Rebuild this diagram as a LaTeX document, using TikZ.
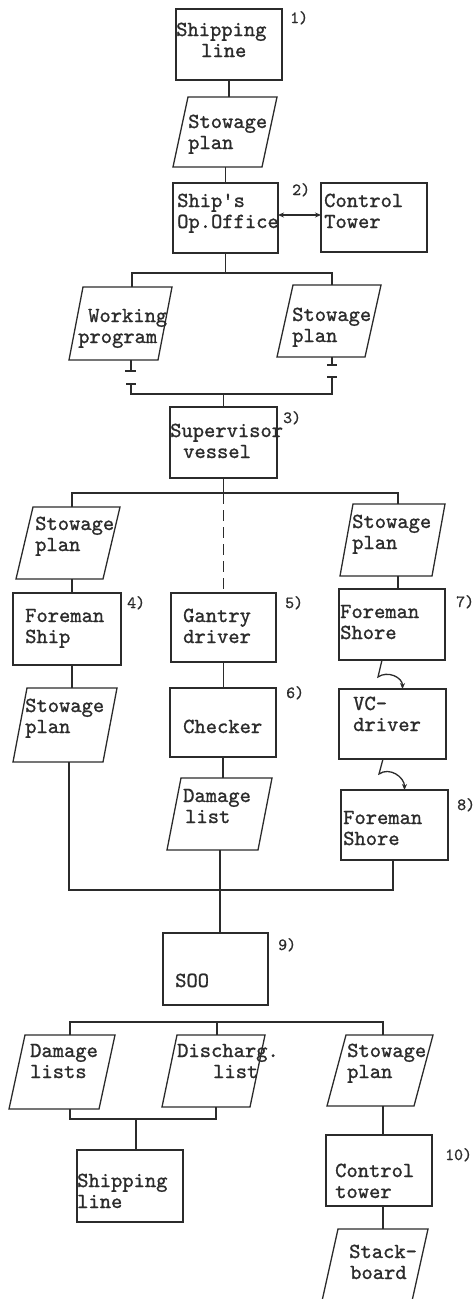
\documentclass[tikz,border=0pt]{standalone}
\usepackage{fontspec}
\newfontfamily\tw{lmmono10-regular.otf}[FakeBold=1.1]
\usetikzlibrary{arrows.meta,calc}
\definecolor{ink}{HTML}{2B2B2B}
\tikzset{
  ln/.style={draw=ink,line width=1.3pt},
  box/.style={ln,rectangle,inner sep=0pt,outer sep=0pt},
  inv/.style={rectangle,inner sep=0pt,outer sep=0pt},
  txt/.style={font=\tw\fontsize{21.5}{21}\selectfont,text=ink,inner sep=0pt,anchor=base west,align=left},
  num/.style={font=\tw\fontsize{17}{18}\selectfont,text=ink,inner sep=0pt,anchor=base west},
  tip/.style={-{Stealth[length=6pt,width=5pt]}},
  dtip/.style={{Stealth[length=6pt,width=5pt]}-{Stealth[length=6pt,width=5pt]}},
}
\newcommand\Para[6]{%
  \node[inv,minimum width=#4,minimum height=#5] (#1) at (#2,#3) {};
  \draw[ln] ([xshift=#6]#1.north west) -- (#1.north east) -- ([xshift=-#6]#1.south east) -- (#1.south west) -- cycle;}
\begin{document}
\begin{tikzpicture}[x=1pt,y=-1pt]
\useasboundingbox (0,0) rectangle (475,1299);
% boxes
\node[box,minimum width=106,minimum height=71] (sl1) at (229,44.5) {};
\node[box,minimum width=105,minimum height=70] (ops) at (225.5,218) {};
\node[box,minimum width=106,minimum height=69] (ct1) at (374,217.5) {};
\node[box,minimum width=107,minimum height=71] (sup) at (223.5,442.5) {};
\node[box,minimum width=108,minimum height=72] (fsh) at (67,629) {};
\node[box,minimum width=105,minimum height=69] (gan) at (223.5,627.5) {};
\node[box,minimum width=106,minimum height=71] (fs1) at (392,624.5) {};
\node[box,minimum width=106,minimum height=69] (chk) at (223,722.5) {};
\node[box,minimum width=107,minimum height=70] (vc) at (392.5,724) {};
\node[box,minimum width=107,minimum height=70] (fs2) at (394.5,825) {};
\node[box,minimum width=105,minimum height=72] (soo) at (215.5,969) {};
\node[box,minimum width=106,minimum height=72] (sl2) at (130,1186) {};
\node[box,minimum width=106,minimum height=71] (ct2) at (379,1170.5) {};
% parallelograms
\Para{sp1}{225}{132}{104}{70}{15}
\Para{wp}{120.5}{323.5}{103}{73}{14}
\Para{sp2}{329}{321}{104}{72}{16}
\Para{sp3}{68}{543}{104}{72}{17}
\Para{sp4}{392.5}{540}{105}{72}{13}
\Para{sp5}{65}{725}{104}{74}{14}
\Para{dl}{219.5}{814}{105}{72}{14}
\Para{dls}{62}{1072}{106}{74}{16}
\Para{dis}{213.5}{1071}{103}{72}{15}
\Para{sp6}{380}{1070.5}{106}{71}{19}
\Para{sb}{375}{1265}{106}{72}{16}
% junction coordinates
\coordinate (b1) at (132,273);
\coordinate (b2) at (332,273);
\coordinate (k1) at (131,371);
\coordinate (k2) at (131,384);
\coordinate (k3) at (131,394);
\coordinate (k4) at (332,365);
\coordinate (k5) at (332,377);
\coordinate (k6) at (332,394);
\coordinate (b3) at (72,493);
\coordinate (b4) at (398,493);
\coordinate (b5) at (69,890);
\coordinate (b6) at (393,890);
\coordinate (b7) at (220,890);
\coordinate (c1) at (70,1022);
\coordinate (c2) at (383,1022);
\coordinate (c3) at (217,1022);
\coordinate (c4) at (70,1119);
\coordinate (c5) at (216,1119);
\coordinate (c6) at (136,1119);
% connectors
\draw[ln] (sl1.south) -- (sl1.south |- sp1.north);
\draw[ln] (ops.north |- sp1.south) -- (ops.north);
\draw[ln,dtip] ([yshift=3pt]ops.east) -- ([yshift=3pt]ops.east -| ct1.west);
\draw[ln] (ops.south) -- (ops.south |- b1);
\draw[ln] (b1 |- wp.north) -- (b1) -- (b2) -- (b2 |- sp2.north);
% break symbols
\draw[ln] (k1 |- wp.south) -- (k1);
\draw[ln] ([xshift=-6pt]k1) -- ([xshift=5pt]k1);
\draw[ln] ([xshift=-5pt]k2) -- ([xshift=5pt]k2);
\draw[ln] (k2) -- (k3) -- (k6) -- (k5);
\draw[ln] ([xshift=-5pt]k5) -- ([xshift=5pt]k5);
\draw[ln] (k4 |- sp2.south) -- (k4);
\draw[ln] ([xshift=-5pt]k4) -- ([xshift=5pt]k4);
\draw[ln] (sup.north |- k3) -- (sup.north);
% supervisor branches
\draw[ln] (sup.south) -- (sup.south |- b3);
\draw[ln] (b3 |- sp3.north) -- (b3) -- (b4) -- (b4 |- sp4.north);
\draw[ln,dash pattern=on 11pt off 6pt] (gan.north |- b3) -- (gan.north);
\draw[ln] (b3 |- sp3.south) -- (b3 |- fsh.north);
\draw[ln] (b3 |- fsh.south) -- (b3 |- sp5.north);
\draw[ln] (gan.south) -- (gan.south |- chk.north);
\draw[ln] (chk.south) -- (chk.south |- dl.north);
\draw[ln] (b4 |- sp4.south) -- (b4 |- fs1.north);
\draw[ln,tip] ([xshift=-10pt]fs1.south) -- ++(-4,17) to[out=35,in=90,looseness=1.1] ([xshift=10pt]vc.north);
\draw[ln,tip] ([xshift=-9.5pt]vc.south) -- ++(-4,15) to[out=35,in=90,looseness=1.1] ([xshift=10pt]fs2.north);
\draw[ln] (b5 |- sp5.south) -- (b5) -- (b6) -- (b6 |- fs2.south);
\draw[ln] (b7 |- dl.south) -- (b7 |- soo.north);
% lower part
\draw[ln] (c1 |- dls.north) -- (c1) -- (c2) -- (c2 |- sp6.north);
\draw[ln] (c3) -- (c3 |- dis.north);
\draw[ln] (c4 |- dls.south) -- (c4) -- (c5) -- (c5 |- dis.south);
\draw[ln] (c6) -- (c6 |- sl2.north);
\draw[ln] (c2 |- sp6.south) -- (c2 |- ct2.north);
\draw[ln] (c2 |- ct2.south) -- (c2 |- sb.north);
% texts (anchor = baseline of last line)
\node[txt] (t1) at (176,57) {Shipping\\\hspace*{25pt}line};
\node[num] (n1) at (290,23) {1)};
\node[txt] (t2) at (188,149) {Stowage\\plan};
\node[txt] (t3) at (177,228) {Ship\char39 s\\Op.Office};
\node[num] (n2) at (292,195) {2)};
\node[txt] (t4) at (324,228) {Control\\Tower};
\node[txt] (t5) at (78,343) {\hspace*{10pt}Working\\program};
\node[txt] (t6) at (292,342) {Stowage\\plan};
\node[txt] (t7) at (170,458) {Supervisor\\\hspace*{13pt}vessel};
\node[num] (n3) at (283,423) {3)};
\node[txt] (t8) at (35,551) {Stowage\\plan};
\node[txt] (t9) at (352,549) {Stowage\\plan};
\node[txt] (t10) at (25,643) {Foreman\\Ship};
\node[num] (n4) at (127,608) {4)};
\node[txt] (t11) at (183,643) {Gantry\\driver};
\node[num] (n5) at (285,608) {5)};
\node[txt] (t12) at (340,639) {Foreman\\Shore};
\node[num] (n7) at (456,607) {7)};
\node[txt] (t13) at (25,733) {Stowage\\plan};
\node[num] (n6) at (286,698) {6)};
\node[txt] (t14) at (183,733) {Checker};
\node[txt] (t15) at (353,731) {VC-\\driver};
\node[txt] (t16) at (183,823) {Damage\\\hspace*{2pt}list};
\node[txt] (t17) at (343,845) {Foreman\\Shore};
\node[num] (n8) at (457,810) {8)};
\node[num] (n9) at (278,950) {9)};
\node[txt] (t18) at (175,987) {SOO};
\node[txt] (t19) at (30,1078) {Damage\\lists};
\node[txt] (t20) at (177,1078) {Discharg.\\\hspace*{36pt}list};
\node[txt] (t21) at (347,1078) {Stowage\\plan};
\node[txt] (t22) at (77,1208) {Shipping\\line};
\node[txt] (t23) at (335,1198) {Control\\tower};
\node[num] (n10) at (445,1160) {10)};
\node[txt] (t24) at (349,1279) {Stack-\\\hspace*{1pt}board};
\end{tikzpicture}
\end{document}
